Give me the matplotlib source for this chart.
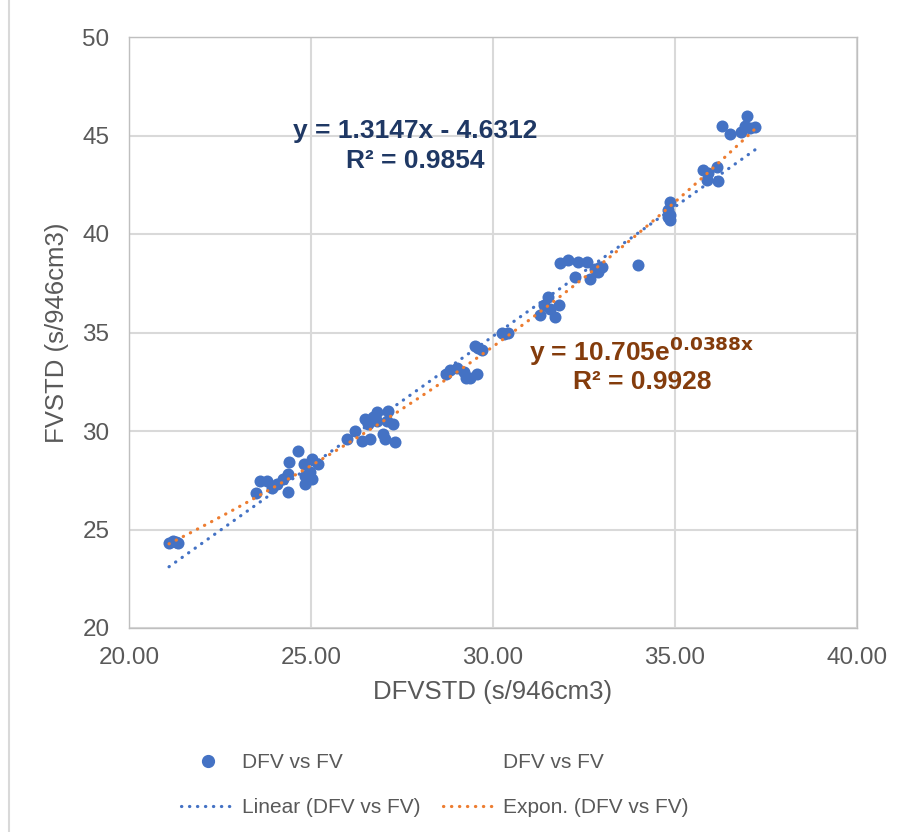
import numpy as np
import matplotlib
matplotlib.use("Agg")
import matplotlib.pyplot as plt
from matplotlib.lines import Line2D

plt.rcParams["font.family"] = ["Liberation Sans", "DejaVu Sans"]

# ============================================
# Data
# ============================================

dfv = [
    21.10, 21.20, 21.30, 21.35,
    23.50, 23.60, 23.80, 23.93, 24.07, 24.23, 24.37, 24.37, 24.40, 24.65,
    24.80, 24.84, 24.84, 25.03, 24.97, 25.19, 25.03,
    25.99, 26.21, 26.40, 26.62, 26.48, 26.57, 26.81, 26.81, 27.12, 27.09,
    27.25, 26.98, 27.03, 27.31, 26.70,
    28.70, 28.82, 29.00, 29.20, 29.25, 29.37, 29.55, 29.50, 29.60, 29.70,
    30.25, 30.30, 30.40,
    31.30, 31.40, 31.50, 31.57, 31.70, 31.80, 31.84, 32.06, 32.34, 32.58,
    32.25, 32.66, 32.80, 32.94, 33.00, 32.88, 33.98,
    34.86, 34.80, 34.86, 34.86, 34.80, 35.77, 35.88, 35.90, 36.15, 36.18,
    36.30, 36.50, 36.80, 36.98, 36.92, 37.20, 37.06,
]
fv = [
    24.30, 24.40, 24.35, 24.30,
    26.84, 27.45, 27.45, 27.10, 27.30, 27.55, 27.80, 26.90, 28.45, 28.97,
    28.30, 27.70, 27.30, 28.56, 27.90, 28.30, 27.55,
    29.58, 29.98, 29.48, 29.58, 30.59, 30.34, 30.95, 30.49, 31.00, 30.49,
    30.34, 29.83, 29.58, 29.43, 30.70,
    32.90, 33.10, 33.20, 33.00, 32.70, 32.70, 32.90, 34.30, 34.20, 34.10,
    35.00, 34.90, 34.95,
    35.90, 36.40, 36.80, 36.20, 35.80, 36.40, 38.55, 38.70, 38.60, 38.60,
    37.80, 37.70, 38.20, 38.35, 38.30, 38.05, 38.45,
    41.60, 41.20, 40.98, 40.70, 40.85, 43.26, 42.76, 43.10, 43.40, 42.70,
    45.50, 45.10, 45.20, 46.00, 45.50, 45.45, 45.40,
]

# trendline coefficients as printed on the chart
lin_slope, lin_icpt = 1.3147, -4.6312
exp_a, exp_b = 10.705, 0.0388

x_ticks = [20, 25, 30, 35, 40]
y_ticks = [20, 25, 30, 35, 40, 45, 50]

BLUE = "#4472C4"
ORANGE = "#ED7D31"
TXT = "#595959"
GRID = "#D9D9D9"
DOTS = (0, (0.1, 2.4))

# ============================================
# Plot
# ============================================

fig = plt.figure(figsize=(9.04, 8.32), dpi=100)
ax = fig.add_axes([129 / 904, 1 - 628 / 832, (857 - 129) / 904, (628 - 37) / 832])

x = np.array(dfv)
y = np.array(fv)
xs = np.linspace(x.min(), x.max(), 200)

ax.scatter(x, y, s=75, color=BLUE, zorder=3, linewidths=0)
ax.plot(xs, lin_slope * xs + lin_icpt, color=BLUE, lw=2.3,
        linestyle=DOTS, dash_capstyle="round", zorder=4)
ax.plot(xs, exp_a * np.exp(exp_b * xs), color=ORANGE, lw=2.3,
        linestyle=DOTS, dash_capstyle="round", zorder=4)

ax.set_xlim(20, 40)
ax.set_ylim(20, 50)
ax.set_xticks(x_ticks)
ax.set_xticklabels([f"{v:.2f}" for v in x_ticks])
ax.set_yticks(y_ticks)
ax.tick_params(length=0, labelsize=17.5, colors=TXT)
ax.tick_params(axis="x", pad=13.5)
ax.tick_params(axis="y", pad=14)
ax.grid(color=GRID, lw=1.5)
ax.set_axisbelow(True)
for sp in ax.spines.values():
    sp.set_color("#BFBFBF")
    sp.set_linewidth(1)

ax.set_xlabel("DFVSTD (s/946cm3)", fontsize=18.5, color=TXT, labelpad=8)
ax.set_ylabel("FVSTD (s/946cm3)", fontsize=18.5, color=TXT, labelpad=10)

# trendline equations
fig.text(415 / 904, 1 - 146 / 832, "y = 1.3147x - 4.6312\nR² = 0.9854",
         ha="center", va="center", fontsize=19, fontweight="bold",
         color="#1F3864", linespacing=1.32)
fig.text(642 / 904, 1 - 364 / 832, "y = 10.705e$^{\\mathbf{0.0388x}}$\nR² = 0.9928",
         ha="center", va="center", fontsize=19, fontweight="bold",
         color="#843C0C", linespacing=1.1)

# legend
blank = Line2D([], [], linestyle="none", marker=None)
h_pts = Line2D([], [], linestyle="none", marker="o", markersize=8.5, color=BLUE)
h_lin = Line2D([], [], color=BLUE, lw=2.3, linestyle=DOTS, dash_capstyle="round")
h_exp = Line2D([], [], color=ORANGE, lw=2.3, linestyle=DOTS, dash_capstyle="round")
fig.legend(
    [h_pts, h_lin, blank, h_exp],
    ["DFV vs FV", "Linear (DFV vs FV)", "DFV vs FV", "Expon. (DFV vs FV)"],
    ncol=2, loc="center", bbox_to_anchor=(435 / 904, 1 - 785 / 832),
    frameon=False, fontsize=15, labelcolor=TXT, handlelength=2.6,
    handletextpad=0.3, columnspacing=1.1, labelspacing=1.25,
)

# chart area border (only the left edge shows)
fig.add_artist(Line2D([9 / 904, 9 / 904], [0, 1], color=GRID, lw=1.5))

fig.savefig("out.png", dpi=100)
